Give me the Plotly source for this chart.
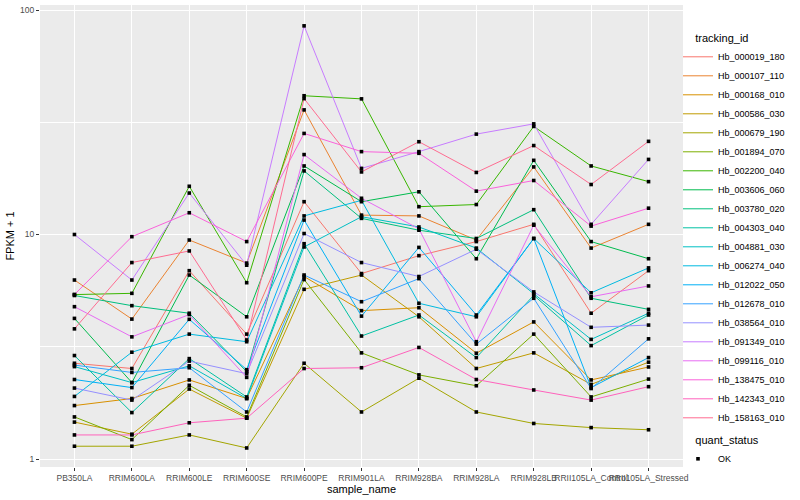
import plotly.graph_objects as go

samples = ["PB350LA", "RRIM600LA", "RRIM600LE", "RRIM600SE", "RRIM600PE", "RRIM901LA",
           "RRIM928BA", "RRIM928LA", "RRIM928LB", "RRII105LA_Control", "RRII105LA_Stressed"]

tracking_ids = ["Hb_000019_180", "Hb_000107_110", "Hb_000168_010", "Hb_000586_030",
                "Hb_000679_190", "Hb_001894_070", "Hb_002200_040", "Hb_003606_060",
                "Hb_003780_020", "Hb_004303_040", "Hb_004881_030", "Hb_006274_040",
                "Hb_012022_050", "Hb_012678_010", "Hb_038564_010", "Hb_091349_010",
                "Hb_099116_010", "Hb_138475_010", "Hb_142343_010", "Hb_158163_010"]

colors = ["#F8766D", "#EA8331", "#D89000", "#C09B00", "#A3A500", "#7CAE00", "#39B600",
          "#00BB4E", "#00BF7D", "#00C1A3", "#00BFC4", "#00BAE0", "#00B0F6", "#35A2FF",
          "#9590FF", "#C77CFF", "#E76BF3", "#FA62DB", "#FF62BC", "#FF6C91"]

# FPKM + 1 values per tracking_id, in sample order
hb_000019_180 = [2.67, 2.53, 6.9, 3.6, 14.0, 6.7, 8.05, 9.3, 11.1, 4.46, 6.9]
hb_000107_110 = [6.27, 4.2, 9.45, 7.46, 35.9, 12.2, 12.1, 9.45, 20.0, 8.7, 11.1]
hb_000168_010 = [1.73, 1.86, 2.25, 1.86, 6.5, 4.58, 4.72, 2.96, 4.08, 2.25, 2.57]
hb_000586_030 = [1.46, 1.29, 2.05, 1.52, 5.7, 6.6, 4.3, 2.53, 2.97, 2.15, 2.7]
hb_000679_190 = [1.14, 1.14, 1.28, 1.12, 2.67, 1.62, 2.29, 1.62, 1.44, 1.38, 1.35]
hb_001894_070 = [1.54, 1.22, 2.13, 1.54, 6.3, 2.97, 2.37, 2.12, 3.6, 1.89, 2.27]
hb_002200_040 = [5.4, 5.47, 16.4, 6.1, 41.5, 40.2, 13.3, 13.6, 30.3, 20.2, 17.2]
hb_003606_060 = [4.23, 2.19, 6.6, 4.3, 20.2, 14.0, 15.5, 7.8, 21.4, 9.3, 7.8]
hb_003780_020 = [5.35, 4.82, 4.46, 2.45, 19.2, 11.8, 10.45, 9.6, 12.9, 5.2, 4.64]
hb_004303_040 = [2.89, 1.61, 2.8, 1.89, 9.1, 3.53, 4.38, 2.83, 5.36, 3.2, 4.38]
hb_004881_030 = [2.58, 2.19, 2.6, 1.86, 8.8, 12.0, 10.8, 8.7, 5.45, 3.41, 4.46]
hb_006274_040 = [1.90, 2.99, 3.6, 3.33, 12.1, 14.2, 4.94, 4.3, 9.6, 5.5, 7.1]
hb_012022_050 = [2.26, 2.08, 4.19, 2.5, 11.6, 4.33, 8.76, 4.38, 9.6, 2.08, 2.83]
hb_012678_010 = [2.62, 2.43, 2.55, 1.62, 6.6, 5.02, 6.36, 3.25, 5.2, 2.06, 3.43]
hb_038564_010 = [2.07, 1.83, 2.73, 2.4, 10.1, 7.5, 6.5, 8.6, 5.55, 3.86, 3.95]
hb_091349_010 = [10.0, 6.27, 15.3, 7.3, 85.0, 19.7, 23.4, 28.0, 31.1, 11.1, 21.6]
hb_099116_010 = [4.77, 3.5, 4.4, 2.31, 22.7, 14.5, 10.6, 3.33, 11.0, 5.28, 5.9]
hb_138475_010 = [5.4, 9.78, 12.5, 9.3, 28.2, 23.4, 23.0, 15.6, 17.4, 10.9, 13.1]
hb_142343_010 = [1.28, 1.28, 1.45, 1.52, 2.53, 2.55, 3.14, 2.26, 2.03, 1.83, 2.10]
hb_158163_010 = [3.80, 7.5, 8.45, 3.39, 40.3, 19.0, 25.9, 18.9, 24.9, 16.7, 26.0]

series = [hb_000019_180, hb_000107_110, hb_000168_010, hb_000586_030, hb_000679_190,
          hb_001894_070, hb_002200_040, hb_003606_060, hb_003780_020, hb_004303_040,
          hb_004881_030, hb_006274_040, hb_012022_050, hb_012678_010, hb_038564_010,
          hb_091349_010, hb_099116_010, hb_138475_010, hb_142343_010, hb_158163_010]

FONT = "Liberation Sans, Arial, sans-serif"
PAD = "\u00a0" * 5

fig = go.Figure()
for name, col, vals in zip(tracking_ids, colors, series):
    fig.add_trace(go.Scatter(x=samples, y=vals, mode="lines", name=name,
                             line=dict(color=col, width=1), legend="legend"))

all_x = [s for vals in series for s in samples]
all_y = [v for vals in series for v in vals]
fig.add_trace(go.Scatter(x=all_x, y=all_y, mode="markers", name="OK",
                         marker=dict(color="black", size=3.6, symbol="square"),
                         legend="legend2"))

fig.update_layout(
    width=800, height=500,
    margin=dict(l=40, r=117, t=5, b=33, autoexpand=False),
    paper_bgcolor="white", plot_bgcolor="#EBEBEB",
    font=dict(family=FONT, size=9, color="#1A1A1A"),
    legend=dict(title=dict(text=PAD + "tracking_id", font=dict(size=11, color="black")),
                xref="container", yref="container", x=0.8475, y=0.944,
                xanchor="left", yanchor="top", font=dict(size=9, color="black"),
                itemwidth=30, tracegroupgap=0, bgcolor="rgba(0,0,0,0)",
                maxheight=460),
    legend2=dict(title=dict(text=PAD + "quant_status", font=dict(size=11, color="black")),
                 xref="container", yref="container", x=0.8475, y=0.14,
                 xanchor="left", yanchor="top", font=dict(size=9, color="black"),
                 itemwidth=30, bgcolor="rgba(0,0,0,0)"),
)
fig.update_xaxes(
    type="category", range=[-0.6, 10.6], automargin=False,
    showgrid=True, gridcolor="white", gridwidth=1.1,
    ticks="outside", ticklen=3, tickcolor="#333333",
    tickfont=dict(size=8.5, color="#4D4D4D"), tickangle=0,
    title=dict(text="sample_name", font=dict(size=11, color="black"), standoff=1),
    zeroline=False, showline=False,
)
fig.update_yaxes(
    type="log", range=[-0.0356, 2.0223], automargin=False,
    tickvals=[1, 10, 100], ticktext=["1", "10", "100"],
    showgrid=True, gridcolor="white", gridwidth=1.1,
    minor=dict(tickvals=[3.1623, 31.623], showgrid=True, gridcolor="white", gridwidth=0.5, ticks=""),
    ticks="outside", ticklen=3, tickcolor="#333333",
    tickfont=dict(size=8.5, color="#4D4D4D"),
    title=dict(text="FPKM + 1", font=dict(size=11, color="black"), standoff=3),
    zeroline=False, showline=False,
)

fig.write_html("out.html", config={"displayModeBar": False},
               post_script="document.body.style.margin='0';")
